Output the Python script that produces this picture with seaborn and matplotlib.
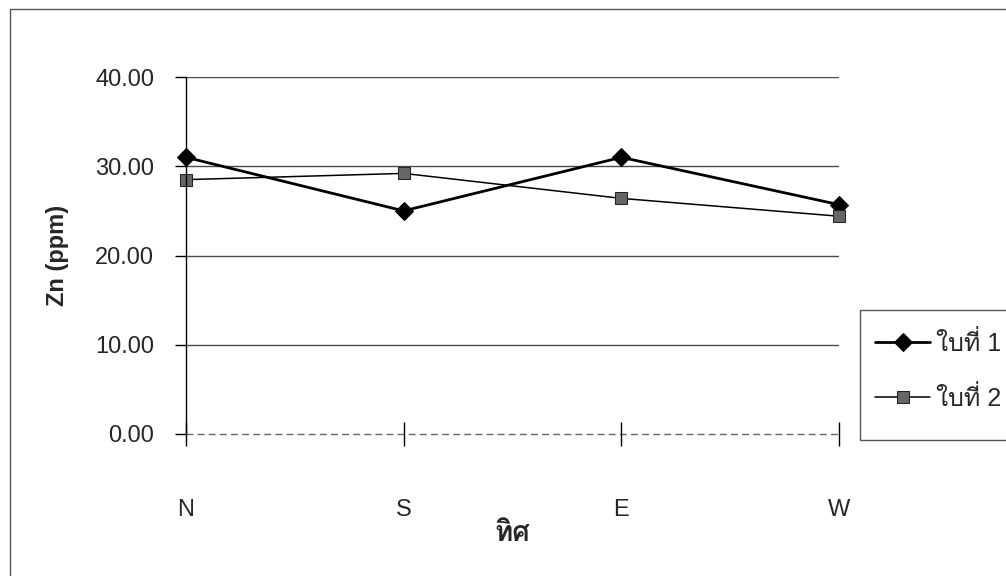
import numpy as np
import pandas as pd
import seaborn as sns
import matplotlib
matplotlib.use("Agg")
import matplotlib.pyplot as plt
from matplotlib import font_manager
from matplotlib.ft2font import FT2Font
from matplotlib.patches import Rectangle

# Zn content of leaves sampled on each side of the tree
directions = ["N", "S", "E", "W"]
leaf1_zn = [31.0, 25.0, 31.0, 25.7]
leaf2_zn = [28.5, 29.2, 26.4, 24.4]
series_labels = ["ใบที่ 1", "ใบที่ 2"]
x_title = "ทิศ"
y_title = "Zn (ppm)"
y_ticks = [0, 10, 20, 30, 40]


def font_with_thai():
    """Return the name of an installed family that covers Thai script, if any."""
    for entry in font_manager.fontManager.ttflist:
        try:
            if 0x0E17 in FT2Font(entry.fname).get_charmap():
                return entry.name
        except Exception:
            continue
    return None


sns.set_theme(style="white")
thai = font_with_thai()
families = ["Liberation Sans"] + ([thai] if thai else []) + ["DejaVu Sans"]
plt.rcParams["font.family"] = families

df = pd.DataFrame({
    "dir": directions * 2,
    "zn": leaf1_zn + leaf2_zn,
    "leaf": [series_labels[0]] * 4 + [series_labels[1]] * 4,
})
df["pos"] = df["dir"].map({d: i for i, d in enumerate(directions)})

W, H = 1006, 576
fig = plt.figure(figsize=(W / 100, H / 100), dpi=100)
ax = fig.add_axes([186 / W, 1 - 434 / H, (839 - 186) / W, (434 - 77) / H])

FS = 17

sns.lineplot(data=df[df["leaf"] == series_labels[0]], x="pos", y="zn", ax=ax,
             color="black", linewidth=2.0, marker="D", markersize=9,
             markerfacecolor="black", markeredgecolor="black",
             label=series_labels[0], clip_on=False)
sns.lineplot(data=df[df["leaf"] == series_labels[1]], x="pos", y="zn", ax=ax,
             color="black", linewidth=1.1, marker="s", markersize=9,
             markerfacecolor="#666666", markeredgecolor="#222222",
             label=series_labels[1], clip_on=False)

ax.set_xlim(0, 3)
ax.set_ylim(0, 40)
ax.set_yticks(y_ticks)
ax.set_yticklabels([f"{v:.2f}" for v in y_ticks], fontsize=FS)
ax.set_xticks(range(len(directions)))
ax.set_xticklabels(directions, fontsize=FS)

# horizontal gridlines
for v in y_ticks[1:]:
    ax.axhline(v, color="#4a4a4a", linewidth=1.0, zorder=0)
ax.axhline(0, color="#666666", linewidth=1.0, linestyle=(0, (5, 3)),
           zorder=0, clip_on=False)

for side in ["top", "right", "bottom"]:
    ax.spines[side].set_visible(False)
ax.spines["left"].set_color("black")
ax.spines["left"].set_linewidth(1.0)

ax.tick_params(axis="y", direction="out", length=8, width=1, color="black",
               pad=15, left=True)
ax.tick_params(axis="x", direction="inout", length=17, width=1, color="black",
               pad=38, bottom=True)

ax.set_xlabel(x_title, fontsize=20, fontweight="bold", labelpad=0)
ax.set_ylabel(y_title, fontsize=FS, fontweight="bold", labelpad=19)

ax.legend_.remove()
handles, labels = ax.get_legend_handles_labels()
fig.legend(handles, labels, loc="upper left",
           bbox_to_anchor=(875 / W, 1 - 331 / H), frameon=False,
           fontsize=FS + 1, handlelength=2.2, handletextpad=0.25,
           labelspacing=1.2, borderpad=0.0, borderaxespad=0.0)

# legend box and chart-area border
fig.patches.append(Rectangle((860 / W, 1 - 440 / H), (W + 20 - 860) / W,
                             (440 - 310) / H, transform=fig.transFigure,
                             fill=False, edgecolor="#555555", linewidth=1.0))
fig.patches.append(Rectangle((10 / W, -0.1), 1.2, 1 - 9 / H + 0.1,
                             transform=fig.transFigure, fill=False,
                             edgecolor="#555555", linewidth=1.0))

fig.savefig("out.png", dpi=100, facecolor="white")
